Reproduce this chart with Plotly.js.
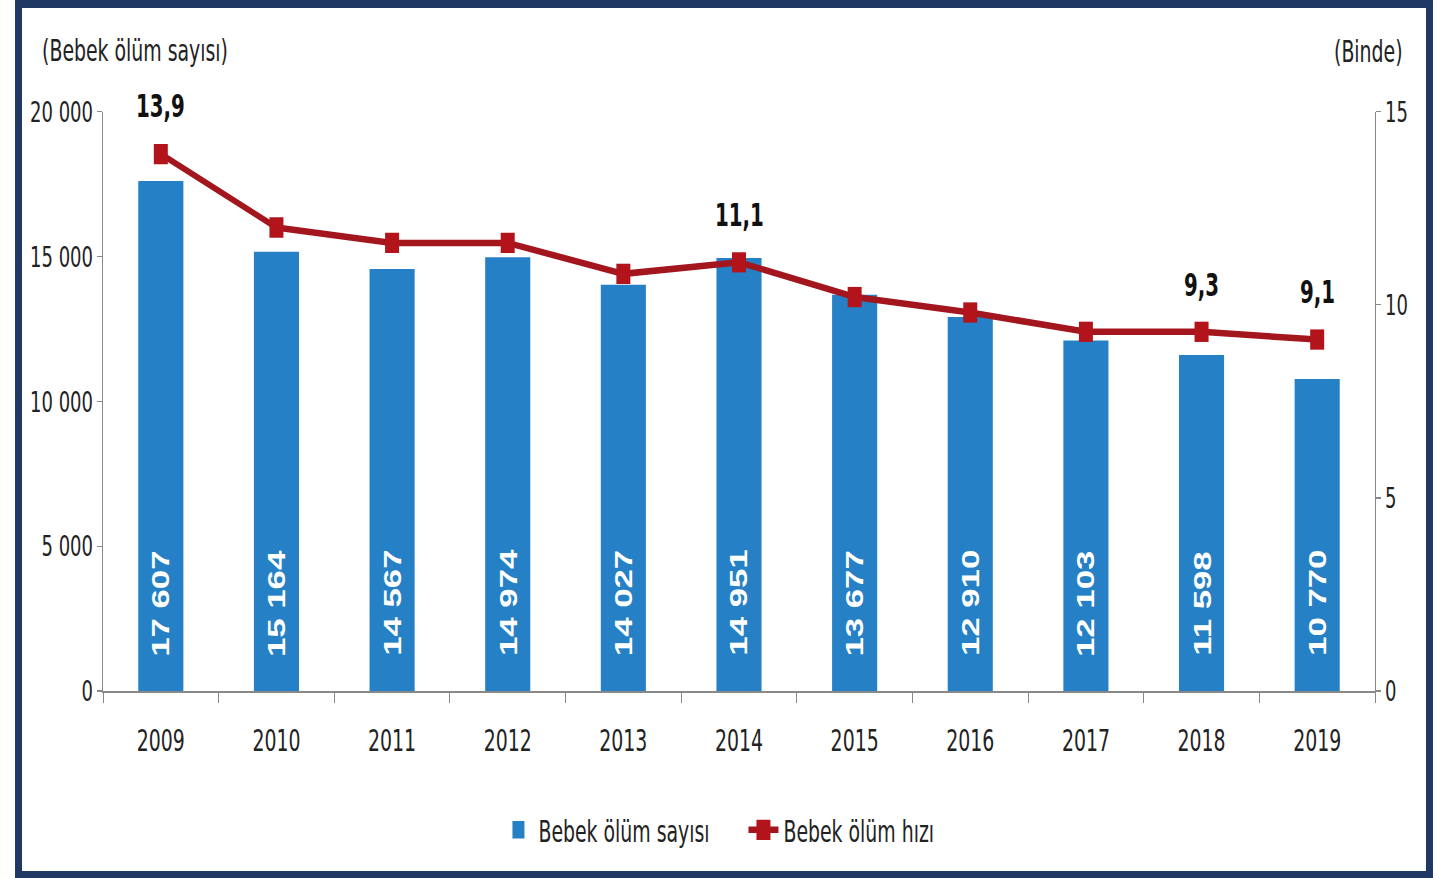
<!DOCTYPE html>
<html>
<head>
<meta charset="utf-8">
<script src="https://cdn.plot.ly/plotly-3.0.1.min.js"></script>
<style>
  html, body { margin:0; padding:0; background:#fff; width:1440px; height:878px; overflow:hidden; }
  #chart { position:absolute; left:0; top:0; width:1440px; height:606px; transform:scaleY(1.449); transform-origin:0 0; }
  #frame { position:absolute; left:15px; top:0; width:1418px; height:878px; box-sizing:border-box;
           border:7px solid #1f3864; border-top-width:8px; pointer-events:none; }
</style>
</head>
<body>
<div id="chart"></div>
<div id="frame"></div>
<script>
const years = ['2009','2010','2011','2012','2013','2014','2015','2016','2017','2018','2019'];
const deaths = [17607, 15164, 14567, 14974, 14027, 14951, 13677, 12910, 12103, 11598, 10770];
const rate = [13.9, 12.0, 11.6, 11.6, 10.8, 11.1, 10.2, 9.8, 9.3, 9.3, 9.1];
const labelledRateIdx = [0, 5, 9, 10];

const NARROW = '"Liberation Sans Narrow", "DejaVu Sans Condensed", "Arial Narrow", sans-serif';
const BLUE = '#2680c6';
const RED = '#a3161d';

function fmtThousands(v){ return String(v).replace(/\B(?=(\d{3})+(?!\d))/g, ' '); }
function fmtDec(v){ return v.toFixed(1).replace('.', ','); }

const barTrace = {
  type:'bar', x: years, y: deaths, name:'Bebek ölüm sayısı',
  marker:{color: BLUE}, width:0.39, hoverinfo:'skip'
};
const lineTrace = {
  type:'scatter', mode:'lines+markers', x: years, y: rate, yaxis:'y2', name:'Bebek ölüm hızı',
  line:{color: RED, width:4.5}, marker:{symbol:'square', size:14, color:'#b3141c'}, hoverinfo:'skip'
};

const annotations = [];
deaths.forEach((v,i)=>{
  annotations.push({x: i, y: 0, xref:'x', yref:'y', text: '<b>' + fmtThousands(v) + '</b>', textangle:-90,
    showarrow:false, yanchor:'bottom', xanchor:'center', yshift:22,
    font:{family:'"Liberation Sans", Arial, sans-serif', size:24, color:'#ffffff'}});
});
labelledRateIdx.forEach(i=>{
  annotations.push({x: i, y: rate[i], xref:'x', yref:'y2', text: '<b>' + fmtDec(rate[i]) + '</b>',
    showarrow:false, yanchor:'middle', xanchor:'center', yshift:33,
    font:{family: NARROW, size:22, color:'#111'}});
});
annotations.push({xref:'paper', yref:'paper', x:-0.0495, y:1.106, xanchor:'left', yanchor:'middle',
  text:'(Bebek ölüm sayısı)', showarrow:false, font:{family:NARROW, size:21, color:'#222'}});
annotations.push({xref:'paper', yref:'paper', x:1.0236, y:1.102, xanchor:'right', yanchor:'middle',
  text:'(Binde)', showarrow:false, font:{family:NARROW, size:21, color:'#222'}});

const layout = {
  width:1440, height:606,
  margin:{l:103, r:65, t:77, b:125},
  paper_bgcolor:'rgba(0,0,0,0)', plot_bgcolor:'rgba(0,0,0,0)',
  separators:', ',
  font:{family: NARROW, size:21, color:'#222'},
  showlegend:true,
  legend:{orientation:'h', x:0.5035, xanchor:'center', y:-0.24, yanchor:'middle',
          entrywidth:200, entrywidthmode:'pixels',
          font:{family:NARROW, size:21, color:'#222'}, bgcolor:'rgba(0,0,0,0)'},
  xaxis:{type:'category', tickson:'boundaries', ticks:'outside', ticklen:7, tickcolor:'#888',
         showline:true, linecolor:'#888', linewidth:1, showgrid:false, zeroline:false,
         ticklabelstandoff:15,
         tickfont:{family:NARROW, size:21, color:'#222'}, range:[-0.5,10.5]},
  yaxis:{range:[0,20000], tickvals:[0,5000,10000,15000,20000], tickformat:',d', separatethousands:true,
         ticks:'outside', ticklen:5, tickcolor:'#888', showline:true, linecolor:'#888',
         showgrid:false, zeroline:false, tickfont:{family:NARROW, size:20, color:'#222'}},
  yaxis2:{range:[0,15], tickvals:[0,5,10,15], overlaying:'y', side:'right',
          ticks:'outside', ticklen:5, tickcolor:'#888', showline:true, linecolor:'#888',
          showgrid:false, zeroline:false, tickfont:{family:NARROW, size:20, color:'#222'}},
  annotations: annotations
};

Plotly.newPlot('chart', [barTrace, lineTrace], layout, {displayModeBar:false, staticPlot:true});
</script>
</body>
</html>
